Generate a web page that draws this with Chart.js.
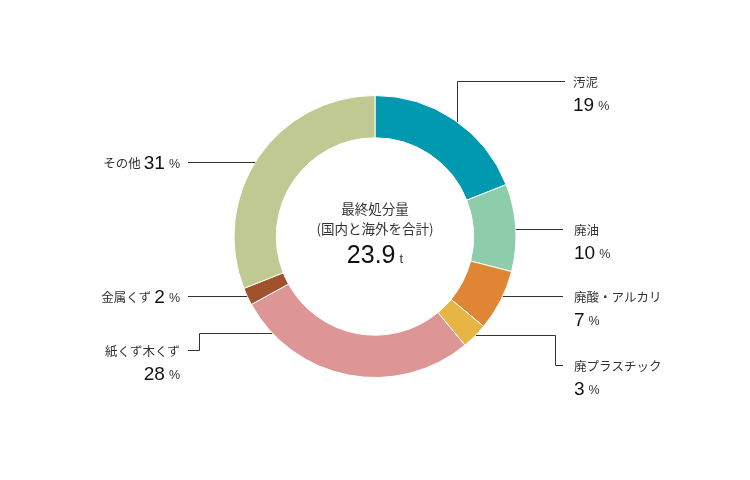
<!DOCTYPE html>
<html lang="ja">
<head>
<meta charset="utf-8">
<script src="https://cdn.jsdelivr.net/npm/chart.js@4/dist/chart.umd.min.js"></script>
<style>
  html, body { margin: 0; padding: 0; background: #fff; }
  #wrap { width: 750px; height: 480px; }
</style>
</head>
<body>
<div id="wrap"><canvas id="miGrafica" width="750" height="480"></canvas></div>
<script>
"use strict";

// datos del grafico
const categories = ['汚泥', '廃油', '廃酸・アルカリ', '廃プラスチック', '紙くず木くず', '金属くず', 'その他'];
const shares = [19, 10, 7, 3, 28, 2, 31];
const segmentColors = ['#0099b0', '#8ecdac', '#e08534', '#e6b543', '#dd9595', '#a0522d', '#bfc991'];
const centerLines = ['最終処分量', '(国内と海外を合計)'];
const totalValue = '23.9';
const totalUnit = 't';

const JP = '"Noto Sans CJK JP", "Noto Sans", sans-serif';
const NUM = '"Liberation Sans", Arial, sans-serif';

// donde va cada etiqueta (solo maquetacion)
const leaders = [
  { kind: 'up', x: 457, topY: 81, endX: 565, tx: 573, side: 'r' },
  { kind: 'h', y: 229, endX: 563, tx: 574, side: 'r' },
  { kind: 'h', y: 296, endX: 563, tx: 574, side: 'r' },
  { kind: 'step', y: 335, elbowX: 555, y2: 365, endX: 563, tx: 574, side: 'r' },
  { kind: 'step', y: 333, elbowX: 199, y2: 350, endX: 188, tx: 180, side: 'l' },
  { kind: 'h', y: 296, endX: 188, tx: 180, side: 'l', inline: true },
  { kind: 'h', y: 162, endX: 188, tx: 180, side: 'l', inline: true }
];

function drawRuns(ctx, runs, x, y, align) {
  let total = 0;
  runs.forEach(r => { ctx.font = r.font; r.w = ctx.measureText(r.text).width; total += r.w + (r.gap || 0); });
  let cx = align === 'right' ? x - total : x;
  runs.forEach(r => {
    ctx.font = r.font;
    ctx.fillStyle = r.color;
    ctx.textAlign = 'left';
    ctx.textBaseline = 'middle';
    ctx.fillText(r.text, cx, y + (r.dy || 0));
    cx += r.w + (r.gap || 0);
  });
}

const labelPlugin = {
  id: 'labelPlugin',
  afterDraw(chart) {
    const ctx = chart.ctx;
    const arc = chart.getDatasetMeta(0).data[0];
    const cx = arc.x, cy = arc.y, R = arc.outerRadius;
    ctx.save();
    ctx.strokeStyle = '#333';
    ctx.lineWidth = 1;

    leaders.forEach((L, i) => {
      ctx.beginPath();
      let nameY, valY;
      if (L.kind === 'up') {
        const sy = cy - Math.sqrt(R * R - (L.x - cx) * (L.x - cx));
        ctx.moveTo(L.x + 0.5, sy);
        ctx.lineTo(L.x + 0.5, L.topY + 0.5);
        ctx.lineTo(L.endX, L.topY + 0.5);
        nameY = L.topY + 1;
      } else {
        const dx = Math.sqrt(R * R - (L.y - cy) * (L.y - cy));
        const sx = L.side === 'r' ? cx + dx : cx - dx;
        ctx.moveTo(sx, L.y + 0.5);
        if (L.kind === 'step') {
          ctx.lineTo(L.elbowX + 0.5, L.y + 0.5);
          ctx.lineTo(L.elbowX + 0.5, L.y2 + 0.5);
          ctx.lineTo(L.endX, L.y2 + 0.5);
          nameY = L.y2 + 1;
        } else {
          ctx.lineTo(L.endX, L.y + 0.5);
          nameY = L.y + 1;
        }
      }
      ctx.stroke();
      valY = nameY + 23;

      const name = { text: categories[i], font: '12.5px ' + JP, color: '#333' };
      const num = { text: String(shares[i]), font: '19px ' + NUM, color: '#111', gap: 4, dy: 1 };
      const pct = { text: '%', font: '12.5px ' + NUM, color: '#333', dy: 2 };
      if (L.inline) {
        name.gap = 3;
        drawRuns(ctx, [name, num, pct], L.tx, nameY, 'right');
      } else {
        const align = L.side === 'r' ? 'left' : 'right';
        drawRuns(ctx, [name], L.tx, nameY, align);
        drawRuns(ctx, [num, pct], L.tx, valY, align);
      }
    });

    // texto central
    ctx.fillStyle = '#333';
    ctx.textAlign = 'center';
    ctx.textBaseline = 'middle';
    ctx.font = '13.5px ' + JP;
    ctx.fillText(centerLines[0], cx, cy - 28);
    ctx.fillText(centerLines[1], cx, cy - 8);
    const numRun = { text: totalValue, font: '25px ' + NUM, color: '#111', gap: 4 };
    const unitRun = { text: totalUnit, font: '13px ' + NUM, color: '#333', dy: 3 };
    ctx.font = numRun.font;
    const w1 = ctx.measureText(numRun.text).width;
    ctx.font = unitRun.font;
    const w2 = ctx.measureText(unitRun.text).width;
    drawRuns(ctx, [numRun, unitRun], cx - (w1 + 4 + w2) / 2, cy + 20, 'left');
    ctx.restore();
  }
};

const ctx = document.getElementById('miGrafica');
const chart = new Chart(ctx, {
  type: 'doughnut',
  data: {
    labels: categories,
    datasets: [{
      data: shares,
      backgroundColor: segmentColors,
      borderColor: '#ffffff',
      borderWidth: 1,
      hoverOffset: 0
    }]
  },
  options: {
    responsive: false,
    animation: false,
    cutout: '70%',
    layout: { padding: { top: 95, bottom: 102, left: 200, right: 200 } },
    plugins: {
      legend: { display: false },
      tooltip: { enabled: false }
    }
  },
  plugins: [labelPlugin]
});
</script>
</body>
</html>
